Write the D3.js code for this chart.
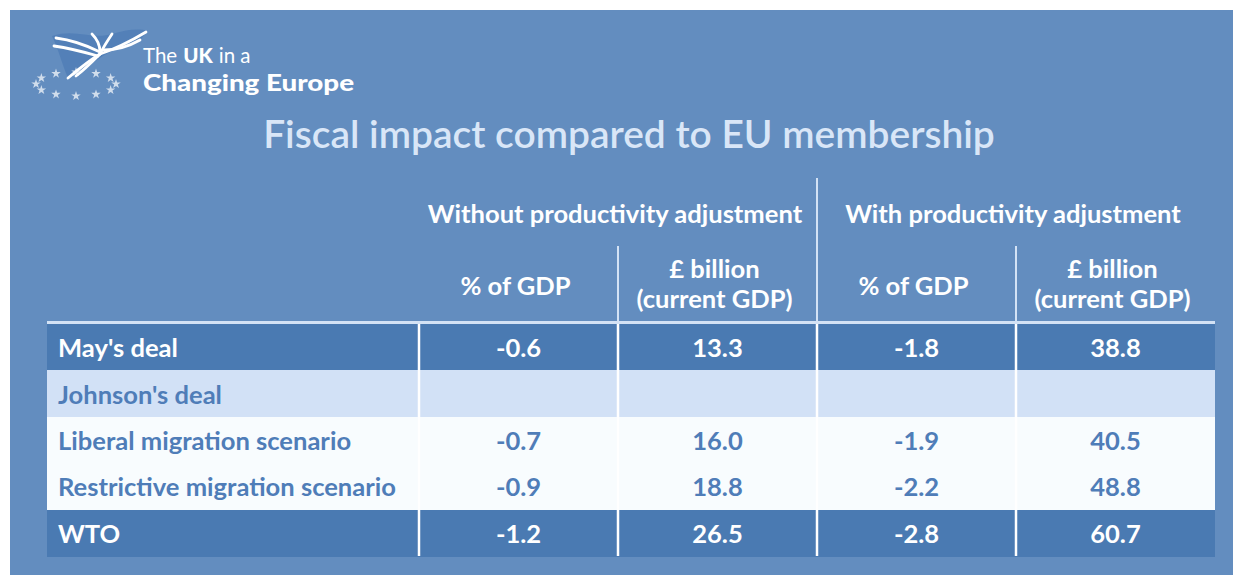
<!DOCTYPE html>
<html lang="en">
	<head>
		<meta charset="utf-8">
		<title>Fiscal impact compared to EU membership</title>
		<script type="text/javascript" src="https://cdn.jsdelivr.net/npm/d3@7"></script>
		<style type="text/css">
			body { margin: 0; background: #ffffff; }
			svg { display: block; }
		</style>
	</head>
	<body>
		<script type="text/javascript">

			//Chart data
			var title = "Fiscal impact compared to EU membership";
			var groupLabels = ["Without productivity adjustment", "With productivity adjustment"];
			var colLabels = [["% of GDP"], ["£ billion", "(current GDP)"], ["% of GDP"], ["£ billion", "(current GDP)"]];
			var rowLabels = ["May's deal", "Johnson's deal", "Liberal migration scenario", "Restrictive migration scenario", "WTO"];
			var rowLevel = [0, 0, 1, 1, 0];   // 1 = sub-scenario of the row above
			var pctNoAdj = [-0.6, null, -0.7, -0.9, -1.2];
			var bnNoAdj = [13.3, null, 16.0, 18.8, 26.5];
			var pctAdj = [-1.8, null, -1.9, -2.2, -2.8];
			var bnAdj = [38.8, null, 40.5, 48.8, 60.7];

			//Width and height
			var w = 1233;
			var h = 575;
			var font = "Lato, 'Open Sans', sans-serif";

			var svg = d3.select("body")
						.append("svg")
						.attr("width", w)
						.attr("height", h);

			//Blue panel
			svg.append("rect")
				.attr("x", 10).attr("y", 10)
				.attr("width", w - 10).attr("height", h - 10)
				.attr("fill", "#638dbf");

			//work out a font size that gives a text a certain width
			function textWidth(text, weight, size) {
				var t = svg.append("text")
					.attr("font-family", font)
					.attr("font-weight", weight)
					.attr("font-size", size)
					.text(text);
				var len = t.node().getComputedTextLength();
				t.remove();
				return len;
			}
			function fitSize(text, weight, target) {
				return 100 * target / textWidth(text, weight, 100);
			}

			var tableSize = fitSize("Restrictive migration scenario", "bold", 338);
			var titleSize = fitSize(title, 600, 732);

			//Scales
			var columns = d3.range(colLabels.length);
			var x = d3.scaleBand().domain(columns).range([419, 1215]);
			var y = d3.scaleBand().domain(d3.range(rowLabels.length)).range([324, 556]);
			var fmt = d3.formatLocale({ decimal: ".", thousands: ",", grouping: [3], currency: ["£", ""], minus: "-" }).format(".1f");
			var series = [pctNoAdj, bnNoAdj, pctAdj, bnAdj];
			var tableLeft = 47, tableRight = 1215;

			//Logo
			var logo = svg.append("g");
			logo.append("path")
				.attr("d", "M52,36 C75,28 92,40 112,34 C125,30 138,28 148,31 L140,40 C126,44 112,50 100,58 C88,66 76,72 68,78 C62,64 58,48 52,36 Z")
				.attr("fill", "#4f7db6")
				.attr("opacity", 0.8);
			var stripes = [
				"M56,38 C72,40 88,46 100,52",
				"M54,46 C68,48 84,52 98,56",
				"M100,54 C104,46 108,40 112,34",
				"M100,54 C112,50 126,44 146,32",
				"M100,54 C90,60 80,68 68,78",
				"M100,54 C92,62 84,70 76,76",
				"M104,50 C116,50 126,48 140,40",
				"M92,34 C98,40 100,46 100,52"
			];
			logo.selectAll(".stripe")
				.data(stripes)
				.enter()
				.append("path")
				.attr("class", "stripe")
				.attr("d", function(d) { return d; })
				.attr("fill", "none")
				.attr("stroke", "#ffffff")
				.attr("stroke-width", 2.8)
				.attr("stroke-linecap", "round");
			var star = d3.symbol().type(d3.symbolStar).size(28);
			logo.selectAll(".star")
				.data(d3.range(12))
				.enter()
				.append("path")
				.attr("class", "star")
				.attr("d", star)
				.attr("transform", function(d) {
					var a = d / 12 * 2 * Math.PI;
					return "translate(" + (76 + 40 * Math.cos(a)) + "," + (84 + 12 * Math.sin(a)) + ")";
				})
				.attr("fill", "#ffffff")
				.attr("opacity", 0.7);

			//"The UK in a" as three pieces laid end to end
			var logoWords = [["The", "normal"], ["UK", 900], ["in a", "normal"]];
			var lx = 143;
			logoWords.forEach(function(p) {
				logo.append("text")
					.attr("x", lx).attr("y", 63)
					.attr("font-family", font)
					.attr("font-weight", p[1])
					.attr("font-size", 20.5)
					.attr("fill", "#ffffff")
					.text(p[0]);
				lx += textWidth(p[0], p[1], 20.5) + 6;
			});
			logo.append("text")
				.attr("x", 143).attr("y", 91)
				.attr("font-family", font)
				.attr("font-size", 22)
				.attr("font-weight", 900)
				.attr("fill", "#ffffff")
				.attr("textLength", 211)
				.attr("lengthAdjust", "spacingAndGlyphs")
				.text("Changing Europe");

			//Title
			svg.append("text")
				.attr("x", 629).attr("y", 148)
				.attr("text-anchor", "middle")
				.attr("font-family", font)
				.attr("font-weight", 600)
				.attr("font-size", titleSize)
				.attr("fill", "#d9e6f7")
				.text(title);

			//Column group headings
			svg.selectAll(".group")
				.data(groupLabels)
				.enter()
				.append("text")
				.attr("class", "group")
				.attr("x", function(d, i) { return (x(i * 2) + x(i * 2 + 1) + x.bandwidth()) / 2 - 3; })
				.attr("y", 223)
				.attr("text-anchor", "middle")
				.attr("font-family", font)
				.attr("font-weight", "bold")
				.attr("font-size", tableSize)
				.attr("fill", "#ffffff")
				.text(function(d) { return d; });

			//Column headings
			var head = svg.selectAll(".colhead")
				.data(colLabels)
				.enter()
				.append("text")
				.attr("class", "colhead")
				.attr("text-anchor", "middle")
				.attr("font-family", font)
				.attr("font-weight", "bold")
				.attr("font-size", tableSize)
				.attr("fill", "#ffffff");
			head.selectAll("tspan")
				.data(function(d, i) { return d.map(function(t) { return { t: t, c: i, n: d.length }; }); })
				.enter()
				.append("tspan")
				.attr("x", function(d) { return x(d.c) + x.bandwidth() / 2 - 3; })
				.attr("y", function(d, j) { return d.n === 1 ? 295 : 278 + j * 30; })
				.text(function(d) { return d.t; });

			//Header rules
			var hdr = "#d3e2f5";
			[[x(1), 246], [x(2), 178], [x(3), 246]].forEach(function(p) {
				svg.append("line")
					.attr("x1", p[0]).attr("x2", p[0])
					.attr("y1", p[1]).attr("y2", 322)
					.attr("stroke", hdr).attr("stroke-width", 2);
			});
			svg.append("line")
				.attr("x1", tableLeft).attr("x2", tableRight)
				.attr("y1", 322.5).attr("y2", 322.5)
				.attr("stroke", hdr).attr("stroke-width", 3);

			//Row styling
			function rowFill(i) {
				if (rowLevel[i] === 1) return "#f8fcfe";
				return series[0][i] === null ? "#d2e1f6" : "#4a7ab2";
			}
			function textFill(i) {
				return rowFill(i) === "#4a7ab2" ? "#ffffff" : "#4f7db8";
			}

			var rows = svg.selectAll(".row")
				.data(rowLabels)
				.enter()
				.append("g")
				.attr("class", "row")
				.attr("transform", function(d, i) { return "translate(0," + y(i) + ")"; });

			rows.append("rect")
				.attr("x", tableLeft)
				.attr("width", tableRight - tableLeft)
				.attr("height", y.bandwidth() + 0.5)
				.attr("shape-rendering", "crispEdges")
				.attr("fill", function(d, i) { return rowFill(i); });

			rows.append("text")
				.attr("x", 58)
				.attr("y", y.bandwidth() / 2 + 10)
				.attr("font-family", font)
				.attr("font-weight", "bold")
				.attr("font-size", tableSize)
				.attr("fill", function(d, i) { return textFill(i); })
				.text(function(d) { return d; });

			rows.each(function(d, i) {
				d3.select(this).selectAll(".val")
					.data(series.map(function(s) { return s[i]; }))
					.enter()
					.append("text")
					.attr("class", "val")
					.attr("x", function(v, c) { return x(c) + x.bandwidth() / 2; })
					.attr("y", y.bandwidth() / 2 + 10)
					.attr("text-anchor", "middle")
					.attr("font-family", font)
					.attr("font-weight", "bold")
					.attr("font-size", tableSize)
					.attr("fill", textFill(i))
					.text(function(v) { return v === null ? "" : fmt(v); });
			});

			//Column separators in the body
			svg.selectAll(".sep")
				.data(columns)
				.enter()
				.append("line")
				.attr("class", "sep")
				.attr("x1", function(c) { return x(c); })
				.attr("x2", function(c) { return x(c); })
				.attr("y1", y.range()[0])
				.attr("y2", y.range()[1])
				.attr("stroke", "#ffffff")
				.attr("stroke-width", 2.5);

		</script>
	</body>
</html>
